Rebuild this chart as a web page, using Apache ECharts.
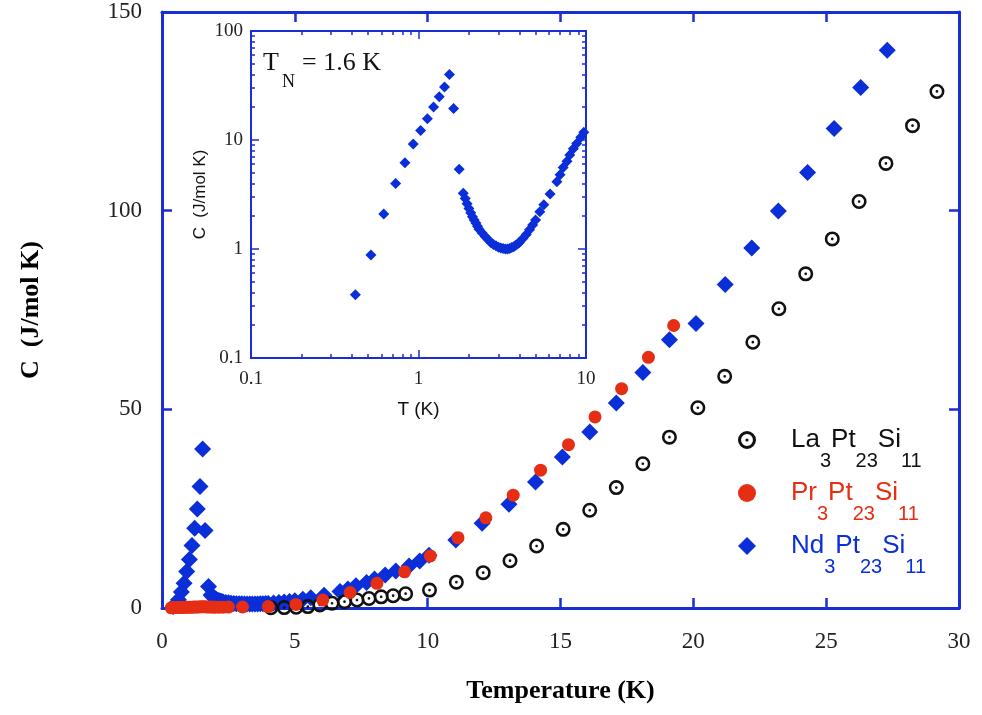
<!DOCTYPE html>
<html>
  <head>
    <meta charset="utf-8" />
    <title>Specific heat R3Pt23Si11</title>
    <script src="https://cdn.jsdelivr.net/npm/echarts@6/dist/echarts.min.js"></script>
    <style>
      html, body { margin: 0; padding: 0; background: #fff; }
    </style>
  </head>
  <body>
    <div id="main" style="width: 982px; height: 715px"></div>
  </body>

  <script>
    // [T (K), C (J/mol K)]
    var laData = [
      [4.1, 0.05], [4.6, 0.1], [5.05, 0.2], [5.49, 0.35], [5.94, 0.75], [6.4, 1.2],
      [6.87, 1.6], [7.34, 2.0], [7.79, 2.4], [8.25, 2.8], [8.7, 3.1], [9.17, 3.6],
      [10.07, 4.5], [11.08, 6.5], [12.09, 8.9], [13.1, 11.9], [14.1, 15.6], [15.1, 19.8],
      [16.1, 24.6], [17.1, 30.3], [18.1, 36.3], [19.1, 43.0], [20.17, 50.4], [21.18, 58.3],
      [22.24, 66.9], [23.22, 75.3], [24.23, 84.1], [25.23, 92.9], [26.24, 102.3],
      [27.25, 111.9], [28.25, 121.4], [29.17, 130.0]
    ];

    var prData = [
      [0.35, 0.05], [0.42, 0.08], [0.5, 0.1], [0.58, 0.12], [0.66, 0.14], [0.74, 0.15],
      [0.82, 0.17], [0.9, 0.18], [0.98, 0.2], [1.06, 0.21], [1.14, 0.22], [1.22, 0.24],
      [1.3, 0.25], [1.38, 0.27], [1.46, 0.3], [1.54, 0.34], [1.62, 0.3], [1.7, 0.26],
      [1.8, 0.24], [1.9, 0.23], [2.0, 0.22], [2.15, 0.22], [2.3, 0.22], [2.5, 0.23],
      [3.03, 0.25], [4.0, 0.35], [5.04, 0.9], [6.05, 2.0], [7.08, 3.9], [8.09, 6.2],
      [9.13, 9.1], [10.1, 13.1], [11.14, 17.7], [12.19, 22.7], [13.22, 28.4], [14.25, 34.7],
      [15.3, 41.1], [16.3, 48.1], [17.3, 55.2], [18.31, 63.1], [19.26, 71.1]
    ];

    var ndData = [
      [0.42, 0.38], [0.52, 0.88], [0.62, 2.1], [0.73, 4.0], [0.83, 6.2], [0.93, 9.2],
      [1.03, 12.2], [1.13, 15.7], [1.23, 20.1], [1.33, 24.9], [1.43, 30.6], [1.53, 40.0],
      [1.62, 19.5], [1.75, 5.4], [1.85, 3.25], [1.9, 2.9], [1.95, 2.6], [2.0, 2.35],
      [2.05, 2.15], [2.1, 1.98], [2.15, 1.85], [2.2, 1.73], [2.25, 1.62], [2.3, 1.52],
      [2.4, 1.4], [2.5, 1.3], [2.6, 1.22], [2.7, 1.15], [2.8, 1.1], [2.9, 1.07],
      [3.0, 1.04], [3.1, 1.02], [3.2, 1.01], [3.3, 1.0], [3.4, 1.0], [3.5, 1.01],
      [3.6, 1.03], [3.7, 1.05], [3.8, 1.08], [3.9, 1.11], [4.0, 1.15], [4.2, 1.25],
      [4.4, 1.36], [4.6, 1.5], [4.8, 1.66], [5.0, 1.85], [5.3, 2.2], [5.6, 2.55],
      [6.1, 3.2], [6.7, 4.15], [7.0, 4.8], [7.3, 5.6], [7.7, 6.4], [8.0, 7.3],
      [8.4, 8.3], [8.8, 9.3], [9.3, 10.6], [9.7, 11.8], [10.05, 13.3],
      [11.06, 17.1], [12.05, 21.3], [13.06, 26.1], [14.06, 31.7], [15.07, 38.0],
      [16.1, 44.3], [17.1, 51.6], [18.1, 59.3], [19.1, 67.5], [20.1, 71.6], [21.2, 81.4],
      [22.2, 90.6], [23.2, 99.9], [24.3, 109.6], [25.3, 120.7], [26.3, 131.0], [27.3, 140.4]
    ];

    var seriesNames = ["La3Pt23Si11", "Pr3Pt23Si11", "Nd3Pt23Si11"];
    var insetMinorX = [0.2, 0.3, 0.4, 0.5, 0.6, 0.7, 0.8, 0.9, 2, 3, 4, 5, 6, 7, 8, 9];
    var insetMinorY = [0.2, 0.3, 0.4, 0.5, 0.6, 0.7, 0.8, 0.9, 2, 3, 4, 5, 6, 7, 8, 9,
                       20, 30, 40, 50, 60, 70, 80, 90];

    var BLUE = "#1b2ed4";
    var NDBLUE = "#0a2ed8";
    var RED = "#e62e14";
    var SERIF = "Liberation Serif";
    var SANS = "Liberation Sans";

    // ring with a dot in the middle
    var ringDot =
      "path://M10,0A10,10,0,1,1,10,20A10,10,0,1,1,10,0Z" +
      "M10,3.4A6.6,6.6,0,1,0,10,16.6A6.6,6.6,0,1,0,10,3.4Z" +
      "M10,8.2A1.8,1.8,0,1,1,10,11.8A1.8,1.8,0,1,1,10,8.2Z";

    function mainX(pos, label) {
      return {
        gridIndex: 0, type: "value", position: pos, min: 0, max: 30, interval: 5,
        axisLine: { show: true, onZero: false, lineStyle: { color: BLUE, width: 3 } },
        axisTick: { show: true, inside: true, length: 10, lineStyle: { color: BLUE, width: 2.5 } },
        axisLabel: { show: label, margin: 22, fontFamily: SERIF, fontSize: 23, color: "#222" },
        splitLine: { show: false }
      };
    }
    function mainY(pos, label) {
      return {
        gridIndex: 0, type: "value", position: pos, min: 0, max: 150, interval: 50,
        axisLine: { show: true, onZero: false, lineStyle: { color: BLUE, width: 3 } },
        axisTick: { show: true, inside: true, length: 10, lineStyle: { color: BLUE, width: 2.5 } },
        axisLabel: { show: label, margin: 20, fontFamily: SERIF, fontSize: 23, color: "#222" },
        splitLine: { show: false }
      };
    }
    function insetX(pos, label, minor) {
      var a = {
        gridIndex: 1, type: "log", logBase: 10, position: pos, min: 0.1, max: 10,
        axisLine: { show: !minor, onZero: false, lineStyle: { color: BLUE, width: 2 } },
        axisTick: { show: true, inside: true, length: minor ? 4 : 8, lineStyle: { color: BLUE, width: 1.5 } },
        axisLabel: { show: label, margin: 12, fontFamily: SERIF, fontSize: 19, color: "#222" },
        splitLine: { show: false }
      };
      if (minor) a.axisTick.customValues = insetMinorX;
      return a;
    }
    function insetY(pos, label, minor) {
      var a = {
        gridIndex: 1, type: "log", logBase: 10, position: pos, min: 0.1, max: 100,
        axisLine: { show: !minor, onZero: false, lineStyle: { color: BLUE, width: 2 } },
        axisTick: { show: true, inside: true, length: minor ? 4 : 8, lineStyle: { color: BLUE, width: 1.5 } },
        axisLabel: { show: label, margin: 8, fontFamily: SERIF, fontSize: 19, color: "#222" },
        splitLine: { show: false }
      };
      if (minor) a.axisTick.customValues = insetMinorY;
      return a;
    }

    var xAxes = [mainX("bottom", true), mainX("top", false),
                 insetX("bottom", true, false), insetX("top", false, false),
                 insetX("bottom", false, true), insetX("top", false, true)];
    xAxes[0].name = "Temperature (K)";
    xAxes[0].nameLocation = "middle";
    xAxes[0].nameGap = 70;
    xAxes[0].nameTextStyle = { fontFamily: SERIF, fontWeight: "bold", fontSize: 26, color: "#000" };
    xAxes[2].name = "T (K)";
    xAxes[2].nameLocation = "middle";
    xAxes[2].nameGap = 42;
    xAxes[2].nameTextStyle = { fontFamily: SANS, fontSize: 19, color: "#111" };

    var yAxes = [mainY("left", true), mainY("right", false),
                 insetY("left", true, false), insetY("right", false, false),
                 insetY("left", false, true), insetY("right", false, true)];
    yAxes[0].name = "C  (J/mol K)";
    yAxes[0].nameLocation = "middle";
    yAxes[0].nameGap = 118;
    yAxes[0].nameTextStyle = { fontFamily: SERIF, fontWeight: "bold", fontSize: 26, color: "#000" };
    yAxes[2].name = "C  (J/mol K)";
    yAxes[2].nameLocation = "middle";
    yAxes[2].nameGap = 42;
    yAxes[2].nameTextStyle = { fontFamily: SANS, fontSize: 17, color: "#111" };

    var myChart = echarts.init(document.getElementById("main"), null, { renderer: "canvas" });

    var option = {
      backgroundColor: "#fff",
      animation: false,
      grid: [
        { left: 162, top: 12, width: 797, height: 596 },
        { left: 251, top: 31, width: 335, height: 327, show: true, backgroundColor: "#fff", borderWidth: 0 }
      ],
      xAxis: xAxes,
      yAxis: yAxes,
      legend: {
        orient: "vertical",
        left: 733,
        top: 422,
        itemGap: 9,
        itemWidth: 18,
        itemHeight: 18,
        data: seriesNames,
        formatter: function (name) {
          var k = name.indexOf("La") === 0 ? "k" : name.indexOf("Pr") === 0 ? "r" : "b";
          return "{" + k + "|" + name.replace(/(\d+)/g, "}{" + k + "s|$1}{" + k + "|") + "}";
        },
        textStyle: {
          padding: [0, 0, 0, 30],
          rich: {
            k: { color: "#111", fontFamily: SANS, fontSize: 26, lineHeight: 62 },
            ks: { color: "#111", fontFamily: SANS, fontSize: 20, lineHeight: 20, verticalAlign: "bottom" },
            r: { color: RED, fontFamily: SANS, fontSize: 26, lineHeight: 62 },
            rs: { color: RED, fontFamily: SANS, fontSize: 20, lineHeight: 20, verticalAlign: "bottom" },
            b: { color: NDBLUE, fontFamily: SANS, fontSize: 26, lineHeight: 62 },
            bs: { color: NDBLUE, fontFamily: SANS, fontSize: 20, lineHeight: 20, verticalAlign: "bottom" }
          }
        }
      },
      graphic: [
        {
          type: "text", left: 263, top: 50, z: 100,
          style: { text: "T", font: "26px " + SERIF, fill: "#111" }
        },
        {
          type: "text", left: 282, top: 73, z: 100,
          style: { text: "N", font: "18px " + SERIF, fill: "#111" }
        },
        {
          type: "text", left: 302, top: 50, z: 100,
          style: { text: "= 1.6 K", font: "26px " + SERIF, fill: "#111" }
        }
      ],
      series: [
        {
          name: "Nd3Pt23Si11",
          type: "scatter",
          xAxisIndex: 0, yAxisIndex: 0,
          symbol: "diamond",
          symbolSize: 17,
          itemStyle: { color: NDBLUE, opacity: 1 },
          data: ndData
        },
        {
          name: "La3Pt23Si11",
          type: "scatter",
          xAxisIndex: 0, yAxisIndex: 0,
          symbol: ringDot,
          symbolSize: 15,
          itemStyle: { color: "#111", opacity: 1 },
          data: laData
        },
        {
          name: "Pr3Pt23Si11",
          type: "scatter",
          xAxisIndex: 0, yAxisIndex: 0,
          symbol: "circle",
          symbolSize: 13,
          itemStyle: { color: RED, opacity: 1 },
          data: prData
        },
        {
          name: "Nd inset",
          type: "scatter",
          xAxisIndex: 2, yAxisIndex: 2,
          symbol: "diamond",
          symbolSize: 11,
          clip: true,
          itemStyle: { color: NDBLUE, opacity: 1 },
          data: ndData
        }
      ]
    };

    myChart.setOption(option);
  </script>
</html>
